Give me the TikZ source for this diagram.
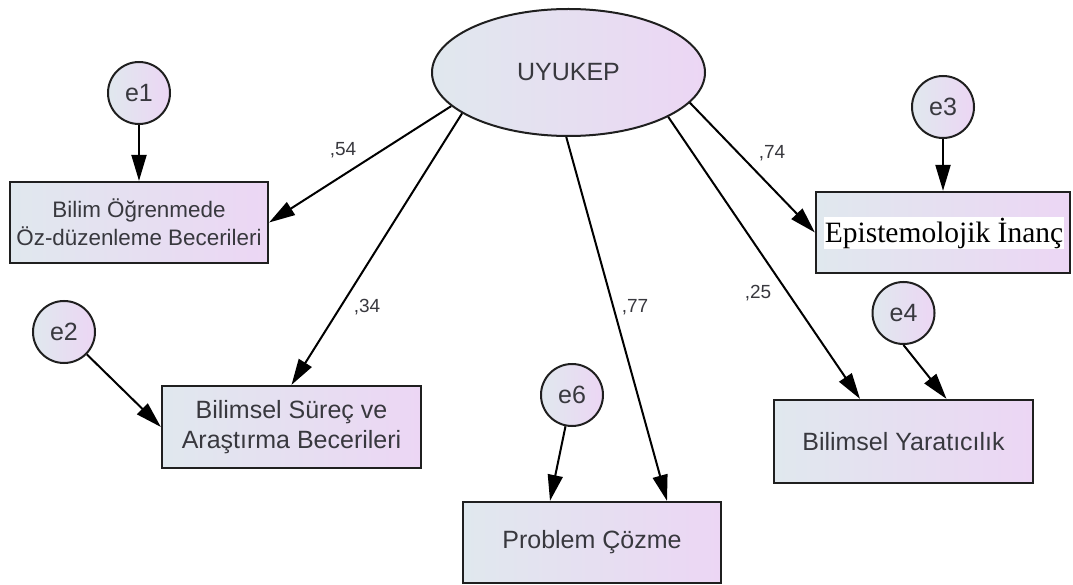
\documentclass[tikz,border=0pt]{standalone}
\usepackage{fontspec}
\setmainfont{Liberation Sans}
\newfontfamily\timesfont{Liberation Serif}
\usetikzlibrary{arrows.meta,shapes.geometric}
\definecolor{fillL}{RGB}{224,232,238}
\definecolor{fillM}{RGB}{233,222,241}
\definecolor{fillR}{RGB}{236,214,244}
\definecolor{ink}{RGB}{56,56,62}
\begin{document}
\begin{tikzpicture}[x=1pt,y=-1pt,
  grad/.style={left color=fillL,middle color=fillM,right color=fillR},
  obs/.style={draw=black!88,line width=2.2pt,grad,rectangle,inner sep=0pt,
    align=center,text=ink,font=\fontsize{25}{30}\selectfont},
  err/.style={draw=black!88,line width=2pt,grad,circle,minimum size=62pt,
    inner sep=0pt,text=ink,font=\fontsize{25}{30}\selectfont},
  load/.style={line width=2pt,-{Triangle[length=26pt,width=15pt]}},
  coef/.style={text=ink,font=\fontsize{19}{22}\selectfont,inner sep=0pt}]
\useasboundingbox (0,0) rectangle (1073,585);

% latent construct
\node[ellipse,draw=black!88,line width=2pt,grad,minimum width=273pt,
  minimum height=127pt,inner sep=0pt,text=ink,
  font=\fontsize{25}{30}\selectfont] (uy) at (568.5,72.5) {UYUKEP};

% observed indicators
\node[obs,minimum width=258pt,minimum height=81pt,
  font=\fontsize{22.4}{28}\selectfont] (b1) at (139,222.5)
  {Bilim Öğrenmede\\Öz-düzenleme Becerileri};
\node[obs,minimum width=259pt,minimum height=82pt] (b2) at (291.5,427)
  {Bilimsel Süreç ve\\Araştırma Becerileri};
\node[obs,minimum width=254pt,minimum height=81pt] (b3) at (943,232.5) {};
\node[fill=white,inner sep=1pt,text=black,
  font=\timesfont\fontsize{29.5}{32}\selectfont] (t3) at (944,233)
  {Epistemolojik İnanç};
\node[obs,minimum width=259pt,minimum height=83pt] (b4) at (903.5,441.5)
  {Bilimsel Yaratıcılık};
\node[obs,minimum width=258pt,minimum height=81pt] (b6) at (592,542.5)
  {Problem Çözme};

% error terms
\node[err] (e1) at (139,93) {e1};
\node[err] (e2) at (64,332) {e2};
\node[err] (e3) at (943,107) {e3};
\node[err] (e4) at (903.5,313) {e4};
\node[err] (e6) at (572,395) {e6};

% factor loadings
\draw[load] (uy.196) -- (b1.east);
\draw[load] (uy.201) -- (b2.north);
\draw[load] (uy.268) -- ([xshift=75pt]b6.north);
\draw[load] (uy.336) -- ([xshift=-43.5pt]b4.north);
\draw[load] (uy.346) -- (b3.west);

% error paths
\draw[load] (e1) -- (b1.north);
\draw[load] (e2) -- (b2.west);
\draw[load] (e3) -- (b3.north);
\draw[load] (e4.south) -- ([xshift=43pt]b4.north);
\draw[load] (e6) -- ([xshift=-42pt]b6.north);

% coefficient labels
\node[coef] (c1) at (343,150) {,54};
\node[coef] (c2) at (367,307) {,34};
\node[coef] (c3) at (635,307) {,77};
\node[coef] (c4) at (758,293) {,25};
\node[coef] (c5) at (772,153) {,74};
\end{tikzpicture}
\end{document}
